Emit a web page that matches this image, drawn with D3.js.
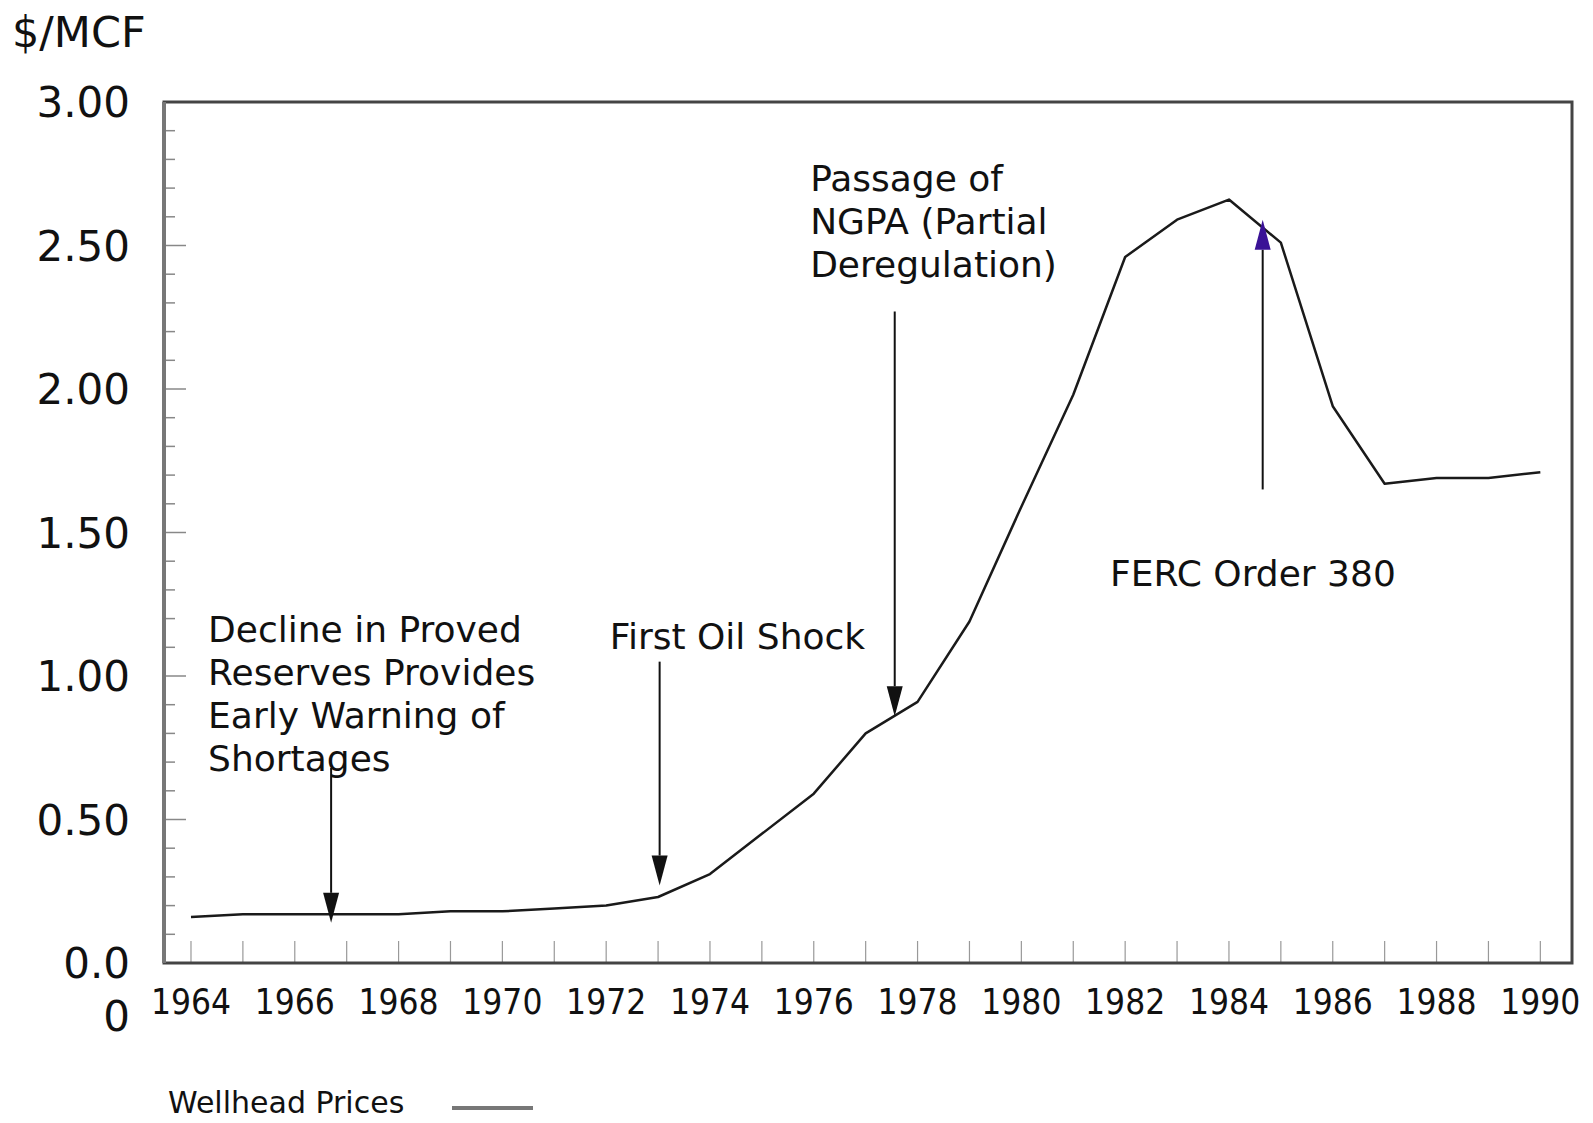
<!DOCTYPE html>
<html>
<head>
<meta charset="utf-8">
<script src="https://cdn.jsdelivr.net/npm/d3@7"></script>
<style>
  body { margin: 0; background: #fff; }
  text { font-family: "DejaVu Sans", Verdana, sans-serif; fill: #111; }
  .cond { font-family: "DejaVu Sans Condensed", "DejaVu Sans", sans-serif; }
</style>
</head>
<body>
<div id="chart"></div>
<script>
// wellhead prices, $/MCF
var years = [1964,1965,1966,1967,1968,1969,1970,1971,1972,1973,1974,1975,1976,1977,
             1978,1979,1980,1981,1982,1983,1984,1985,1986,1987,1988,1989,1990];
var prices = [0.16,0.17,0.17,0.17,0.17,0.18,0.18,0.19,0.20,0.23,0.31,0.45,0.59,0.80,
              0.91,1.19,1.59,1.98,2.46,2.59,2.66,2.51,1.94,1.67,1.69,1.69,1.71];
var yTickLabels = ["0.0","0.50","1.00","1.50","2.00","2.50","3.00"];
var xTickLabels = d3.range(1964, 1991, 2);

// annotations: arrow year, arrow start/end values, text lines
var noteYears  = [1966.7, 1973.03, 1977.56, 1984.65];
var noteFrom   = [0.68, 1.05, 2.27, 1.65];
var noteTo     = [0.14, 0.27, 0.86, 2.59];
var noteLines  = [
  ["Decline in Proved", "Reserves Provides", "Early Warning of", "Shortages"],
  ["First Oil Shock"],
  ["Passage of", "NGPA (Partial", "Deregulation)"],
  ["FERC Order 380"]
];
var noteTextYear = [1964.33, 1972.07, 1975.93, 1981.71];
var noteTextVal  = [1.165, 1.14, 2.735, 1.36];

var W = 1593, H = 1123;
var margin = {top: 102, right: 21, bottom: 160, left: 164},
    width = W - margin.left - margin.right,
    height = H - margin.top - margin.bottom;

var svg = d3.select("#chart")
  .append("svg")
    .attr("width", W)
    .attr("height", H)
  .append("g")
    .attr("transform", "translate(" + margin.left + "," + margin.top + ")");

var x = d3.scaleLinear()
    .domain([1963.48, 1990.61])
    .range([0, width]);

var y = d3.scaleLinear()
    .domain([0, 3])
    .range([height, 0]);

// minor y ticks every 0.1, major every 0.5, pointing inwards
svg.selectAll(".ytick")
    .data(d3.range(0, 31))
  .enter().append("line")
    .attr("x1", 0)
    .attr("x2", function(d) { return d % 5 === 0 ? 22 : 11; })
    .attr("y1", function(d) { return y(d / 10); })
    .attr("y2", function(d) { return y(d / 10); })
    .style("stroke", "#888")
    .style("stroke-width", 1.5);

// year ticks
svg.selectAll(".xtick")
    .data(years)
  .enter().append("line")
    .attr("x1", function(d) { return x(d); })
    .attr("x2", function(d) { return x(d); })
    .attr("y1", height)
    .attr("y2", height - 22)
    .style("stroke", "#999")
    .style("stroke-width", 1.2);

// frame
svg.append("rect")
    .attr("width", width)
    .attr("height", height)
    .style("fill", "none")
    .style("stroke", "#444")
    .style("stroke-width", 3);
svg.append("line")
    .attr("x1", 0).attr("x2", 0)
    .attr("y1", 0).attr("y2", height)
    .style("stroke", "#777")
    .style("stroke-width", 4);

// y labels
svg.selectAll(".ylab")
    .data(yTickLabels)
  .enter().append("text")
    .attr("x", -34)
    .attr("y", function(d) { return y(+d); })
    .attr("dy", "0.36em")
    .style("text-anchor", "end")
    .style("font-size", "42px")
    .text(function(d) { return d; });

svg.append("text")
    .attr("x", -34)
    .attr("y", height + 53)
    .attr("dy", "0.36em")
    .style("text-anchor", "end")
    .style("font-size", "42px")
    .text("0");

svg.append("text")
    .attr("x", -152)
    .attr("y", -70)
    .attr("dy", "0.36em")
    .style("font-size", "43px")
    .text("$/MCF");

// x labels
svg.selectAll(".xlab")
    .data(xTickLabels)
  .enter().append("text")
    .attr("class", "cond")
    .attr("x", function(d) { return x(d); })
    .attr("y", height + 38)
    .attr("dy", "0.36em")
    .style("text-anchor", "middle")
    .style("font-size", "35px")
    .text(function(d) { return d; });

// the price line
var line = d3.line()
    .x(function(d, i) { return x(years[i]); })
    .y(function(d) { return y(d); });

svg.append("path")
    .datum(prices)
    .attr("d", line)
    .style("fill", "none")
    .style("stroke", "#1a1a1a")
    .style("stroke-width", 2.5)
    .style("stroke-linejoin", "round");

// arrows
noteYears.forEach(function(yr, i) {
  var ax = x(yr), y0 = y(noteFrom[i]), y1 = y(noteTo[i]);
  var dir = y1 > y0 ? 1 : -1;
  var headLen = 30, headW = 8;
  svg.append("line")
      .attr("x1", ax).attr("x2", ax)
      .attr("y1", y0).attr("y2", y1 - dir * headLen)
      .style("stroke", "#111")
      .style("stroke-width", 2);
  svg.append("path")
      .attr("d", "M" + ax + "," + y1 +
                 "L" + (ax - headW) + "," + (y1 - dir * headLen) +
                 "L" + (ax + headW) + "," + (y1 - dir * headLen) + "Z")
      .style("fill", i === 3 ? "#3a1296" : "#111");
});

// annotation text
noteLines.forEach(function(lines, i) {
  var t = svg.append("text")
      .attr("x", x(noteTextYear[i]))
      .attr("y", y(noteTextVal[i]))
      .style("font-size", "36px");
  lines.forEach(function(s, j) {
    t.append("tspan")
      .attr("x", x(noteTextYear[i]))
      .attr("dy", j === 0 ? "0.36em" : "1.2em")
      .text(s);
  });
});

// legend
svg.append("text")
    .attr("x", 4)
    .attr("y", height + 139)
    .attr("dy", "0.36em")
    .style("font-size", "30px")
    .text("Wellhead Prices");
svg.append("line")
    .attr("x1", 288).attr("x2", 369)
    .attr("y1", height + 145).attr("y2", height + 145)
    .style("stroke", "#777")
    .style("stroke-width", 4);
</script>
</body>
</html>
